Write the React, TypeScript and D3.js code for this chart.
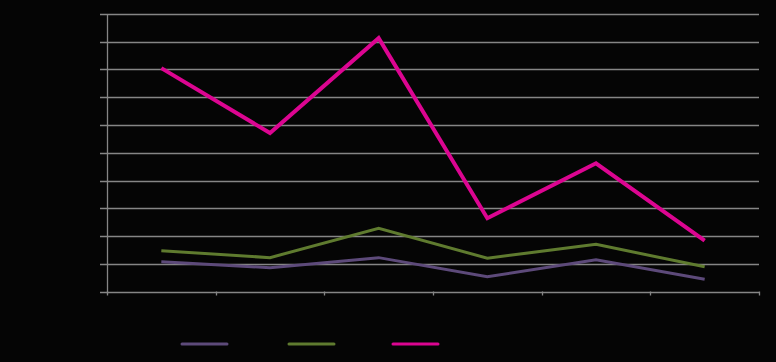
import { useEffect, useRef } from 'react';
import * as d3 from 'd3';

const categories = ['1', '2', '3', '4', '5', '6'];
const seriesNames = ['Series 1', 'Series 2', 'Series 3'];
const seriesColors = ['#5d4a7a', '#5f7b2f', '#dc0591'];
const seriesWidths = [3, 3, 4];
const purpleValues = [1.07, 0.86, 1.22, 0.53, 1.14, 0.44];
const greenValues = [1.47, 1.22, 2.28, 1.2, 1.7, 0.89];
const pinkValues = [8.05, 5.71, 9.13, 2.64, 4.62, 1.83];
const yTicks = [0, 1, 2, 3, 4, 5, 6, 7, 8, 9, 10];

const W = 776;
const H = 362;

export default function App() {
  const svgRef = useRef<SVGSVGElement>(null);

  useEffect(() => {
    if (!svgRef.current) return;
    document.body.style.margin = '0';
    document.body.style.background = '#050505';
    const svg = d3.select(svgRef.current);
    svg.selectAll('*').remove();

    const margin = { top: 14, right: 17, bottom: 70.5, left: 107 };
    const innerW = W - margin.left - margin.right;
    const innerH = H - margin.top - margin.bottom;

    svg.append('rect').attr('width', W).attr('height', H).attr('fill', '#050505');

    const x = d3.scaleBand().domain(categories).range([0, innerW]);
    const y = d3.scaleLinear().domain([0, 10]).range([innerH, 0]);

    const g = svg.append('g').attr('transform', `translate(${margin.left},${margin.top})`);

    // gridlines
    g.selectAll('.grid')
      .data(yTicks)
      .enter().append('line')
      .attr('x1', -7)
      .attr('x2', innerW)
      .attr('y1', d => Math.round(y(d)) + 0.5)
      .attr('y2', d => Math.round(y(d)) + 0.5)
      .attr('stroke', '#868686')
      .attr('stroke-width', 1.3);

    // y axis line
    g.append('line')
      .attr('x1', 0.5).attr('x2', 0.5)
      .attr('y1', 0).attr('y2', innerH + 2)
      .attr('stroke', '#868686')
      .attr('stroke-width', 1.3);

    // x ticks at band edges
    const edges = categories.map(c => x(c) || 0).concat([innerW]);
    g.selectAll('.xtick')
      .data(edges)
      .enter().append('line')
      .attr('x1', d => Math.round(d) + 0.5)
      .attr('x2', d => Math.round(d) + 0.5)
      .attr('y1', innerH)
      .attr('y2', innerH + 4)
      .attr('stroke', '#868686')
      .attr('stroke-width', 1.3);

    const allSeries = [purpleValues, greenValues, pinkValues];
    const line = d3.line<number>()
      .x((_, i) => (x(categories[i]) || 0) + x.bandwidth() / 2)
      .y(d => y(d));

    allSeries.forEach((vals, si) => {
      g.append('path')
        .datum(vals)
        .attr('fill', 'none')
        .attr('stroke', seriesColors[si])
        .attr('stroke-width', seriesWidths[si])
        .attr('stroke-linejoin', 'miter')
        .attr('d', line);
    });

    // legend
    const legend = svg.append('g').attr('transform', 'translate(182,344)');
    seriesNames.forEach((name, i) => {
      const lg = legend.append('g').attr('transform', `translate(${[0, 107, 211][i]},0)`);
      lg.append('line')
        .attr('x1', 0).attr('x2', 45)
        .attr('y1', 0).attr('y2', 0)
        .attr('stroke', seriesColors[i])
        .attr('stroke-width', 3)
        .attr('stroke-linecap', 'round');
      lg.append('text')
        .attr('x', 52).attr('y', 4)
        .style('font-family', 'Liberation Sans, Arial, sans-serif')
        .style('font-size', '11px')
        .style('fill', '#050505')
        .text(name);
    });
  }, []);

  return <svg ref={svgRef} width={W} height={H} style={{ display: 'block' }} />;
}
